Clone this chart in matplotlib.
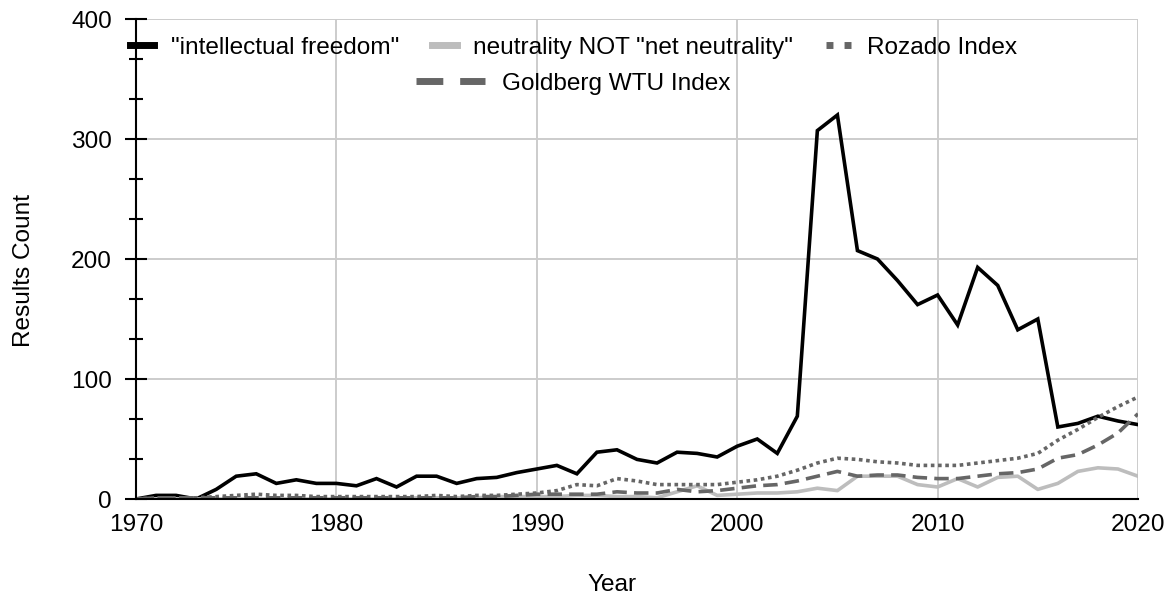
import matplotlib
matplotlib.use("Agg")
import matplotlib.pyplot as plt
from matplotlib.lines import Line2D
from matplotlib.ticker import MultipleLocator
import numpy as np

plt.rcParams['font.family'] = ['Liberation Sans', 'DejaVu Sans']

years = np.arange(1970, 2021)

intellectual_freedom = [0, 3, 3, 0, 8, 19, 21, 13, 16, 13,
                        13, 11, 17, 10, 19, 19, 13, 17, 18, 22,
                        25, 28, 21, 39, 41, 33, 30, 39, 38, 35,
                        44, 50, 38, 69, 307, 320, 207, 200, 182, 162,
                        170, 145, 193, 178, 141, 150, 60, 63, 69, 65,
                        62]
neutrality = [0, 0, 0, 0, 0, 0, 0, 0, 0, 0,
              0, 0, 0, 0, 1, 1, 1, 1, 2, 2,
              2, 2, 3, 3, 2, 2, 1, 6, 11, 3,
              4, 5, 5, 6, 9, 7, 19, 19, 19, 12,
              10, 17, 10, 18, 19, 8, 13, 23, 26, 25,
              19]
rozado = [0, 1, 1, 1, 2, 3, 4, 3, 3, 2,
          2, 2, 2, 2, 2, 3, 2, 3, 3, 4,
          5, 7, 12, 11, 17, 15, 12, 12, 12, 12,
          14, 16, 19, 24, 30, 34, 33, 31, 30, 28,
          28, 28, 30, 32, 34, 38, 49, 58, 68, 77,
          85]
goldberg = [0, 1, 1, 1, 1, 1, 1, 1, 1, 1,
            1, 1, 1, 1, 1, 1, 1, 2, 2, 3,
            4, 4, 4, 4, 6, 5, 5, 8, 6, 7,
            9, 11, 12, 15, 19, 23, 19, 20, 20, 18,
            17, 17, 19, 21, 22, 25, 34, 37, 45, 55,
            71]

labels = ['"intellectual freedom"', 'neutrality NOT "net neutrality"',
          'Rozado Index', 'Goldberg WTU Index']

BLACK = '#000000'
LIGHT = '#bdbdbd'
DARK = '#666666'
FS = 17.6

fig = plt.figure(figsize=(11.74, 6.01), dpi=100)
ax = fig.add_axes([136 / 1174, 102 / 601, 1002 / 1174, 480 / 601])

lw = 2.6
ax.plot(years, intellectual_freedom, color=BLACK, lw=lw, solid_joinstyle='miter')
ax.plot(years, neutrality, color=LIGHT, lw=lw)
ax.plot(years, rozado, color=DARK, lw=lw, dashes=(1, 1))
ax.plot(years, goldberg, color=DARK, lw=lw, dashes=(4, 2))

ax.set_xlim(1970, 2020)
ax.set_ylim(0, 400)
ax.xaxis.set_major_locator(MultipleLocator(10))
ax.yaxis.set_major_locator(MultipleLocator(100))
ax.yaxis.set_minor_locator(MultipleLocator(100 / 3))

ax.grid(True, which='major', color='#cccccc', lw=1.4)
ax.set_axisbelow(True)
for s in ['top', 'right']:
    ax.spines[s].set_visible(False)
for s in ['left', 'bottom']:
    ax.spines[s].set_linewidth(1.5)
    ax.spines[s].set_color('black')

ax.tick_params(axis='x', length=0, pad=11, labelsize=FS)
ax.tick_params(axis='y', which='major', direction='inout', length=16.5,
               width=1.5, pad=9, labelsize=FS)
ax.tick_params(axis='y', which='minor', direction='inout', length=9.5, width=1.5)

ax.set_xlabel('Year', fontsize=FS)
ax.set_ylabel('Results Count', fontsize=FS)
ax.xaxis.set_label_coords(0.475, -0.157)
ax.yaxis.set_label_coords(-0.101, 0.477)

# legend proxies
h_if = Line2D([], [], color=BLACK, lw=5)
h_ne = Line2D([], [], color=LIGHT, lw=5)
h_ro = Line2D([], [], color=DARK, lw=5, dashes=(1, 1.6))
h_go = Line2D([], [], color=DARK, lw=5, dashes=(3.86, 2.43))

leg1 = ax.legend([h_if, h_ne, h_ro], labels[:3], ncol=3, frameon=False,
                 fontsize=FS, handlelength=1.0, handletextpad=0.68,
                 columnspacing=1.35, borderpad=0, borderaxespad=0,
                 loc='center left', bbox_to_anchor=(-0.006, 0.9396))
ax.add_artist(leg1)
ax.legend([h_go], labels[3:], frameon=False, fontsize=FS,
          handlelength=2.84, handletextpad=0.68, borderpad=0, borderaxespad=0,
          loc='center left', bbox_to_anchor=(0.2794, 0.8646))

fig.savefig('out.png', dpi=100)
